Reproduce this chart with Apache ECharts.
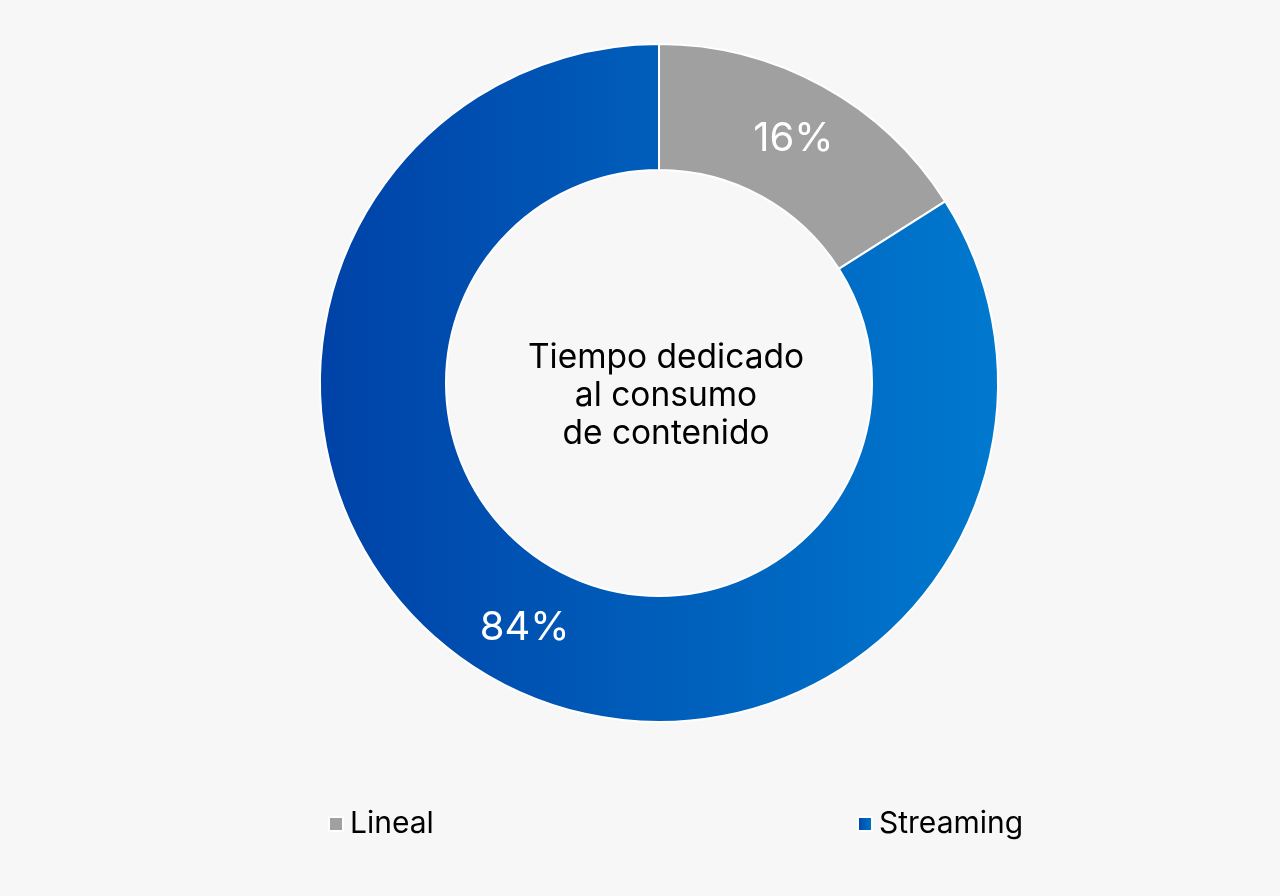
<!DOCTYPE html>
<html>
<head>
<meta charset="utf-8">
<script src="https://cdn.jsdelivr.net/npm/echarts@6/dist/echarts.min.js"></script>
<style>
  html, body { margin: 0; padding: 0; background: #f7f7f7; }
  #chart { width: 1280px; height: 896px; }
</style>
</head>
<body>
<div id="chart"></div>
<script>
// datos del gráfico
const categories = ['Lineal', 'Streaming']
const values = [16, 84]
const centerTitle = 'Tiempo dedicado\nal consumo\nde contenido'

const fontFamily = 'Inter, "Noto Sans", sans-serif'

// degradado horizontal del segmento Streaming
const streamingColor = new echarts.graphic.LinearGradient(0, 0, 1, 0, [
    { offset: 0, color: '#0042a7' },
    { offset: 1, color: '#0079ce' }
])
const colors = ['#a0a0a0', streamingColor]

const chart = echarts.init(document.getElementById('chart'))

const legendBase = {
    orient: 'horizontal',
    top: 809,
    padding: 0,
    itemWidth: 14,
    itemHeight: 14,
    icon: 'rect',
    textStyle: { fontFamily, fontSize: 30, color: '#000', padding: [0, 0, 0, 2] }
}

chart.setOption({
    backgroundColor: '#f7f7f7',
    animation: false,
    legend: [
        Object.assign({}, legendBase, { left: 328, data: [categories[0]] }),
        Object.assign({}, legendBase, { left: 857, data: [categories[1]] })
    ],
    graphic: [{
        type: 'text',
        x: 666,
        y: 339,
        style: {
            text: centerTitle,
            fill: '#000',
            font: '33.5px ' + fontFamily,
            textAlign: 'center',
            lineHeight: 38
        }
    }],
    series: [{
        type: 'pie',
        center: [659, 383],
        radius: [213, 339],
        startAngle: 90,
        clockwise: true,
        label: {
            show: true,
            position: 'inside',
            formatter: '{c}%',
            color: '#fff',
            fontFamily,
            fontSize: 40
        },
        labelLine: { show: false },
        itemStyle: { borderColor: '#fff', borderWidth: 2 },
        emphasis: { disabled: true },
        data: categories.map((name, i) => ({
            name,
            value: values[i],
            itemStyle: { color: colors[i] }
        }))
    }]
})
</script>
</body>
</html>
